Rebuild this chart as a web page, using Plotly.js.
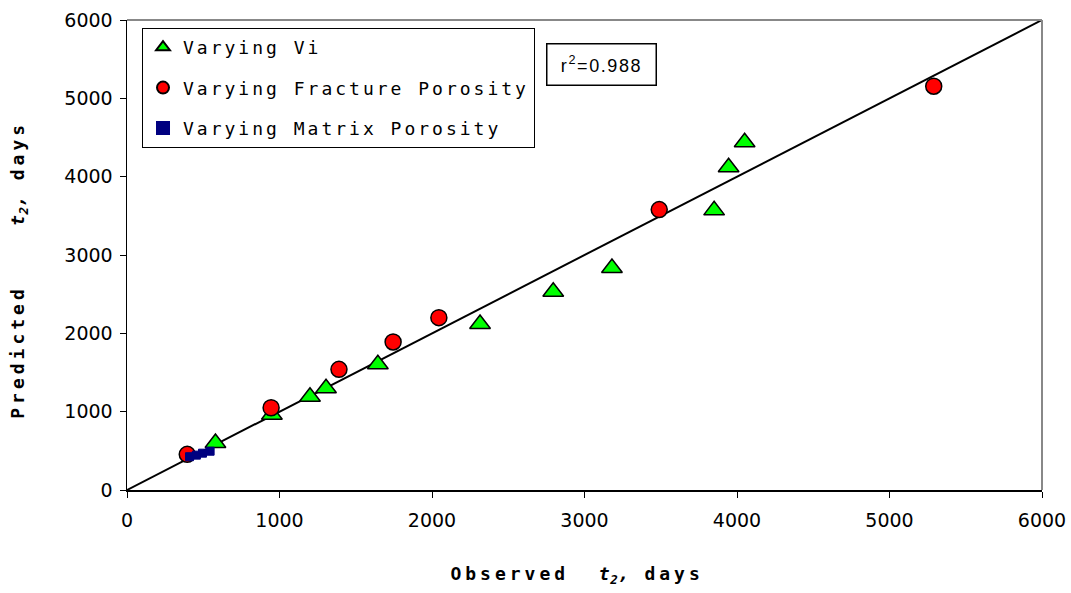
<!DOCTYPE html>
<html>
<head>
<meta charset="utf-8">
<script src="https://cdn.plot.ly/plotly-3.0.1.min.js"></script>
<style>
body { margin: 0; background: #fff; }
.legendtext { letter-spacing: 3px; }
.xtitle, .ytitle { letter-spacing: 4px; }
.xtitle tspan[style*="italic"], .ytitle tspan[style*="italic"],
.xtitle tspan[style*="italic"] tspan, .ytitle tspan[style*="italic"] tspan { letter-spacing: 0.5px; }
.annotation-text { letter-spacing: 1.6px; }
</style>
</head>
<body>
<div id="chart" style="width:1071px;height:593px;"></div>
<script>
// Varying Vi (observed, predicted)
const viObserved  = [580, 950, 1200, 1305, 1645, 2315, 2795, 3180, 3850, 3945, 4050];
const viPredicted = [600, 960, 1190, 1300, 1605, 2120, 2530, 2835, 3570, 4120, 4440];
// Varying Fracture Porosity
const fracObserved  = [395, 945, 1390, 1745, 2045, 3490, 5290];
const fracPredicted = [455, 1050, 1540, 1890, 2200, 3580, 5155];
// Varying Matrix Porosity
const matObserved  = [410, 455, 495, 545];
const matPredicted = [425, 445, 470, 495];
// 1:1 line
const fitX = [0, 6000];
const fitY = [0, 6000];
const tickVals = [0, 1000, 2000, 3000, 4000, 5000, 6000];

const traces = [
  {x: fitX, y: fitY, mode: 'lines', line: {color: '#000', width: 2}, showlegend: false, hoverinfo: 'skip'},
  {x: viObserved, y: viPredicted, mode: 'markers', name: 'Varying Vi', legendgroup: 'a',
   marker: {symbol: 'triangle-up', size: 18, color: '#00ff00', line: {color: '#000', width: 1.5}}},
  {x: fracObserved, y: fracPredicted, mode: 'markers', name: 'Varying Fracture Porosity', legendgroup: 'b',
   marker: {symbol: 'circle', size: 16, color: '#ff0000', line: {color: '#000', width: 1.5}}},
  {x: matObserved, y: matPredicted, mode: 'markers', name: 'Varying Matrix Porosity', legendgroup: 'c',
   marker: {symbol: 'square', size: 8, color: '#000080', line: {color: '#000080', width: 1}}}
];

const monoTitle = {family: '"DejaVu Sans Mono", monospace', size: 18, color: '#000', weight: 'bold'};
const nb = '\u00A0';
const keep = '\u200C';

const layout = {
  width: 1071, height: 593,
  margin: {l: 127, r: 29, t: 20, b: 103},
  paper_bgcolor: '#fff', plot_bgcolor: '#fff',
  font: {family: '"DejaVu Sans", sans-serif', size: 19, color: '#000'},
  showlegend: true,
  legend: {
    x: 0.0164, y: 0.983, xanchor: 'left', yanchor: 'top',
    bgcolor: '#fff', bordercolor: '#000', borderwidth: 1,
    font: {family: '"DejaVu Sans Mono", monospace', size: 18, color: '#000'},
    tracegroupgap: 14, traceorder: 'grouped', itemsizing: 'constant'
  },
  xaxis: {
    range: [0, 6000], tickvals: tickVals, ticktext: tickVals.map(String),
    showgrid: false, zeroline: false, showline: true, linecolor: '#000', linewidth: 1.5,
    ticks: 'outside', ticklen: 6, tickcolor: '#000', tickwidth: 1, ticklabelstandoff: 7,
    tickfont: {family: '"DejaVu Sans", sans-serif', size: 19},
    title: {text: 'Observed' + nb + nb + '<i>t<sub>2</sub>,</i> days' + nb + keep, font: monoTitle, standoff: 37},
    automargin: false
  },
  yaxis: {
    range: [0, 6000], tickvals: tickVals, ticktext: tickVals.map(String),
    showgrid: false, zeroline: false, showline: true, linecolor: '#000', linewidth: 1.5,
    ticks: 'outside', ticklen: 6, tickcolor: '#000', tickwidth: 1, ticklabelstandoff: 3,
    tickfont: {family: '"DejaVu Sans", sans-serif', size: 19},
    title: {text: 'Predicted' + nb.repeat(4) + '<i>t<sub>2</sub>,</i> days' + nb + nb + keep, font: monoTitle, standoff: 35},
    automargin: false
  },
  shapes: [
    {type: 'line', xref: 'paper', yref: 'paper', x0: 0, x1: 1, y0: 1, y1: 1, line: {color: '#888', width: 2}},
    {type: 'line', xref: 'paper', yref: 'paper', x0: 1, x1: 1, y0: 0, y1: 1, line: {color: '#888', width: 2}}
  ],
  annotations: [
    {xref: 'paper', yref: 'paper', x: 0.519, y: 0.906, xanchor: 'center', yanchor: 'middle',
     text: 'r<sup>2</sup>=0.988', showarrow: false, width: 91, height: 23,
     font: {family: '"Liberation Sans", Arial, sans-serif', size: 18, color: '#000'},
     bordercolor: '#000', borderwidth: 1.5, borderpad: 8.5, bgcolor: '#fff'}
  ]
};

Plotly.newPlot('chart', traces, layout, {displayModeBar: false, staticPlot: true});
</script>
</body>
</html>
